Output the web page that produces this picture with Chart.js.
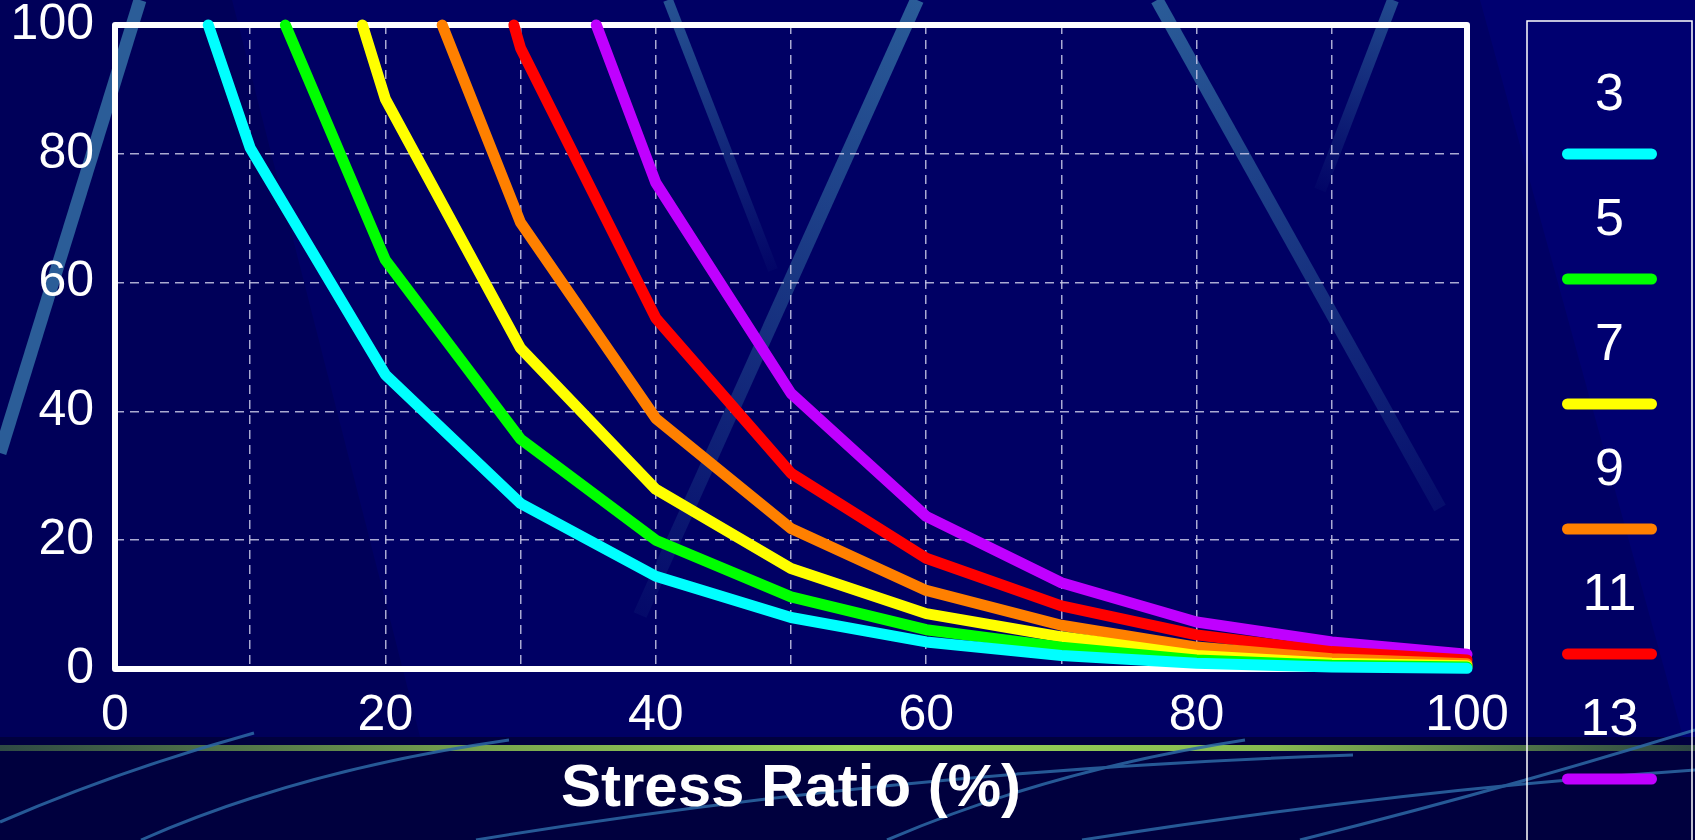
<!DOCTYPE html>
<html><head><meta charset="utf-8">
<script src="https://cdn.jsdelivr.net/npm/chart.js@4.4.1/dist/chart.umd.min.js"></script>
<style>
html,body{margin:0;padding:0;background:#000064;}
#wrap{position:relative;width:1695px;height:840px;overflow:hidden;}
#bg{position:absolute;left:0;top:0;}
#c{position:absolute;left:0;top:0;}
</style></head><body>
<div id="wrap">
<svg id="bg" width="1695" height="840" xmlns="http://www.w3.org/2000/svg">
<defs>
 <linearGradient id="gl" x1="0" x2="1" y1="0" y2="0">
   <stop offset="0" stop-color="#2f4a44"/>
   <stop offset="0.3" stop-color="#7aa84e"/>
   <stop offset="0.5" stop-color="#9ad858"/>
   <stop offset="0.75" stop-color="#86ba50"/>
   <stop offset="1" stop-color="#2b4442"/>
 </linearGradient>
 <linearGradient id="s2" gradientUnits="userSpaceOnUse" x1="668" y1="0" x2="773" y2="270">
   <stop offset="0" stop-color="#2a5c98" stop-opacity="0.9"/>
   <stop offset="1" stop-color="#2a5c98" stop-opacity="0.05"/>
 </linearGradient>
 <linearGradient id="s3" gradientUnits="userSpaceOnUse" x1="917" y1="0" x2="640" y2="615">
   <stop offset="0" stop-color="#2a5c98" stop-opacity="1"/>
   <stop offset="1" stop-color="#2a5c98" stop-opacity="0.1"/>
 </linearGradient>
 <linearGradient id="s4" gradientUnits="userSpaceOnUse" x1="1157" y1="0" x2="1440" y2="508">
   <stop offset="0" stop-color="#2a5c98" stop-opacity="1"/>
   <stop offset="1" stop-color="#2a5c98" stop-opacity="0.15"/>
 </linearGradient>
 <linearGradient id="s5" gradientUnits="userSpaceOnUse" x1="1393" y1="0" x2="1320" y2="190">
   <stop offset="0" stop-color="#2a5c98" stop-opacity="0.8"/>
   <stop offset="1" stop-color="#2a5c98" stop-opacity="0.05"/>
 </linearGradient>
</defs>
<rect x="0" y="0" width="1695" height="840" fill="#000064"/>
<polygon points="0,0 232,0 420,737 0,737" fill="#00004c" opacity="0.45"/>
<polygon points="1480,0 1695,0 1695,737 1683,737" fill="#000078" opacity="0.6"/>
<line x1="0" y1="453" x2="140" y2="0" stroke="#2b5d98" stroke-width="13"/>
<line x1="668" y1="0" x2="773" y2="270" stroke="url(#s2)" stroke-width="10"/>
<line x1="917" y1="0" x2="640" y2="615" stroke="url(#s3)" stroke-width="14"/>
<line x1="1157" y1="0" x2="1440" y2="508" stroke="url(#s4)" stroke-width="13"/>
<line x1="1393" y1="0" x2="1320" y2="190" stroke="url(#s5)" stroke-width="12"/>
<rect x="0" y="737" width="1695" height="103" fill="#00003e"/>
<rect x="0" y="745" width="1695" height="6" fill="url(#gl)"/>
<g fill="none" stroke="#2d69a6" stroke-width="3" opacity="0.85">
 <path d="M0,822 Q120,770 254,733"/>
 <path d="M141,840 Q300,770 509,740"/>
 <path d="M476,840 Q900,770 1353,755"/>
 <path d="M887,840 Q1050,770 1245,740"/>
 <path d="M1082,840 Q1400,790 1695,770"/>
 <path d="M1300,840 Q1500,790 1695,730"/>
</g>
</svg>
<canvas id="c" width="1695" height="840"></canvas>
</div>
<script>
// ---- data ----
const stressRatio = [10, 20, 30, 40, 50, 60, 70, 80, 90, 100];
const seriesNames = ['3', '5', '7', '9', '11', '13'];
const seriesColors = ['#00ffff', '#00ff00', '#ffff00', '#ff8000', '#ff0000', '#c000ff'];
const startRatio = [6.9, 12.6, 18.3, 24.2, 29.5, 35.6];
const startValue = 100;
const life3  = [80.9, 45.7, 25.7, 14.4, 8.0, 4.2, 2.1, 0.9, 0.3, 0.1];
const life5  = [null, 63.5, 35.7, 20.0, 11.2, 6.1, 3.4, 1.4, 0.6, 0.3];
const life7  = [null, 88.5, 49.8, 27.9, 15.6, 8.6, 5.0, 2.1, 0.9, 0.5];
const life9  = [null, null, 69.3, 38.9, 21.8, 12.2, 6.8, 3.4, 1.6, 0.8];
const life11 = [null, null, 96.4, 54.5, 30.4, 17.2, 9.8, 5.3, 2.7, 1.4];
const life13 = [null, null, null, 75.5, 42.8, 23.7, 13.4, 7.3, 4.2, 2.3];
const xTickLabels = [0, 20, 40, 60, 80, 100];
const yTickLabels = [0, 20, 40, 60, 80, 100];
const xTitle = 'Stress Ratio (%)';

const allSeries = [life3, life5, life7, life9, life11, life13];
const FONT = "'Liberation Sans', Arial, Helvetica, sans-serif";

const datasets = allSeries.map((vals, i) => {
  const pts = [{x: startRatio[i], y: startValue}];
  stressRatio.forEach((x, j) => {
    if (vals[j] !== null && x > startRatio[i]) pts.push({x: x, y: vals[j]});
  });
  return {
    label: seriesNames[i],
    data: pts,
    borderColor: seriesColors[i],
    backgroundColor: seriesColors[i],
    borderWidth: 11,
    borderCapStyle: 'round',
    borderJoinStyle: 'round',
    pointRadius: 0,
    tension: 0,
    fill: false,
    clip: false
  };
});

const framePlugin = {
  id: 'frame',
  beforeDatasetsDraw(chart) {
    const {ctx, chartArea: a} = chart;
    ctx.save();
    ctx.strokeStyle = '#ffffff';
    ctx.lineWidth = 6;
    ctx.lineJoin = 'round';
    ctx.strokeRect(a.left, a.top, a.right - a.left, a.bottom - a.top);
    ctx.restore();
  }
};

const legendPlugin = {
  id: 'sideLegend',
  afterDraw(chart) {
    const ctx = chart.ctx;
    const boxL = 1527, boxR = 1692, boxT = 21;
    ctx.save();
    ctx.strokeStyle = '#ffffff';
    ctx.lineWidth = 1.5;
    ctx.strokeRect(boxL, boxT, boxR - boxL, 900);
    const cx = (boxL + boxR) / 2;
    ctx.font = '52px ' + FONT;
    ctx.fillStyle = '#ffffff';
    ctx.textAlign = 'center';
    ctx.textBaseline = 'middle';
    chart.data.datasets.forEach((ds, i) => {
      const ty = 94 + i * 125;
      ctx.fillText(ds.label, cx, ty + 2);
      const sy = ty + 60;
      ctx.strokeStyle = ds.borderColor;
      ctx.lineWidth = 11;
      ctx.lineCap = 'round';
      ctx.beginPath();
      ctx.moveTo(cx - 42, sy);
      ctx.lineTo(cx + 42, sy);
      ctx.stroke();
    });
    ctx.restore();
  }
};

new Chart(document.getElementById('c'), {
  type: 'line',
  data: {datasets},
  options: {
    responsive: false,
    animation: false,
    devicePixelRatio: 1,
    layout: {padding: {left: 0, top: 25, right: 228, bottom: 0}},
    plugins: {legend: {display: false}, tooltip: {enabled: false}},
    scales: {
      x: {
        type: 'linear',
        min: 0, max: 100,
        afterFit: s => { s.height = 171; s.paddingLeft = 0; s.paddingRight = 0; },
        grid: {color: 'rgba(200,200,230,0.85)', lineWidth: 1.5, drawTicks: false},
        border: {display: false, dash: [9, 6]},
        ticks: {
          stepSize: 10,
          autoSkip: false,
          maxRotation: 0,
          padding: 22,
          color: '#ffffff',
          font: {family: FONT, size: 50, lineHeight: 1},
          callback: v => xTickLabels.includes(v) ? String(v) : ''
        },
        title: {
          display: true,
          text: xTitle,
          color: '#ffffff',
          font: {family: FONT, size: 60, weight: 'bold', lineHeight: 1.2},
          padding: {top: 0, bottom: 15}
        }
      },
      y: {
        type: 'linear',
        min: 0, max: 100,
        afterFit: s => { s.width = 115; s.paddingTop = 0; s.paddingBottom = 0; },
        grid: {color: 'rgba(200,200,230,0.85)', lineWidth: 1.5, drawTicks: false},
        border: {display: false, dash: [9, 6]},
        ticks: {
          stepSize: 20,
          padding: 21,
          color: '#ffffff',
          font: {family: FONT, size: 50, lineHeight: 1},
          callback: v => yTickLabels.includes(v) ? String(v) : ''
        }
      }
    }
  },
  plugins: [framePlugin, legendPlugin]
});
</script>
</body></html>
